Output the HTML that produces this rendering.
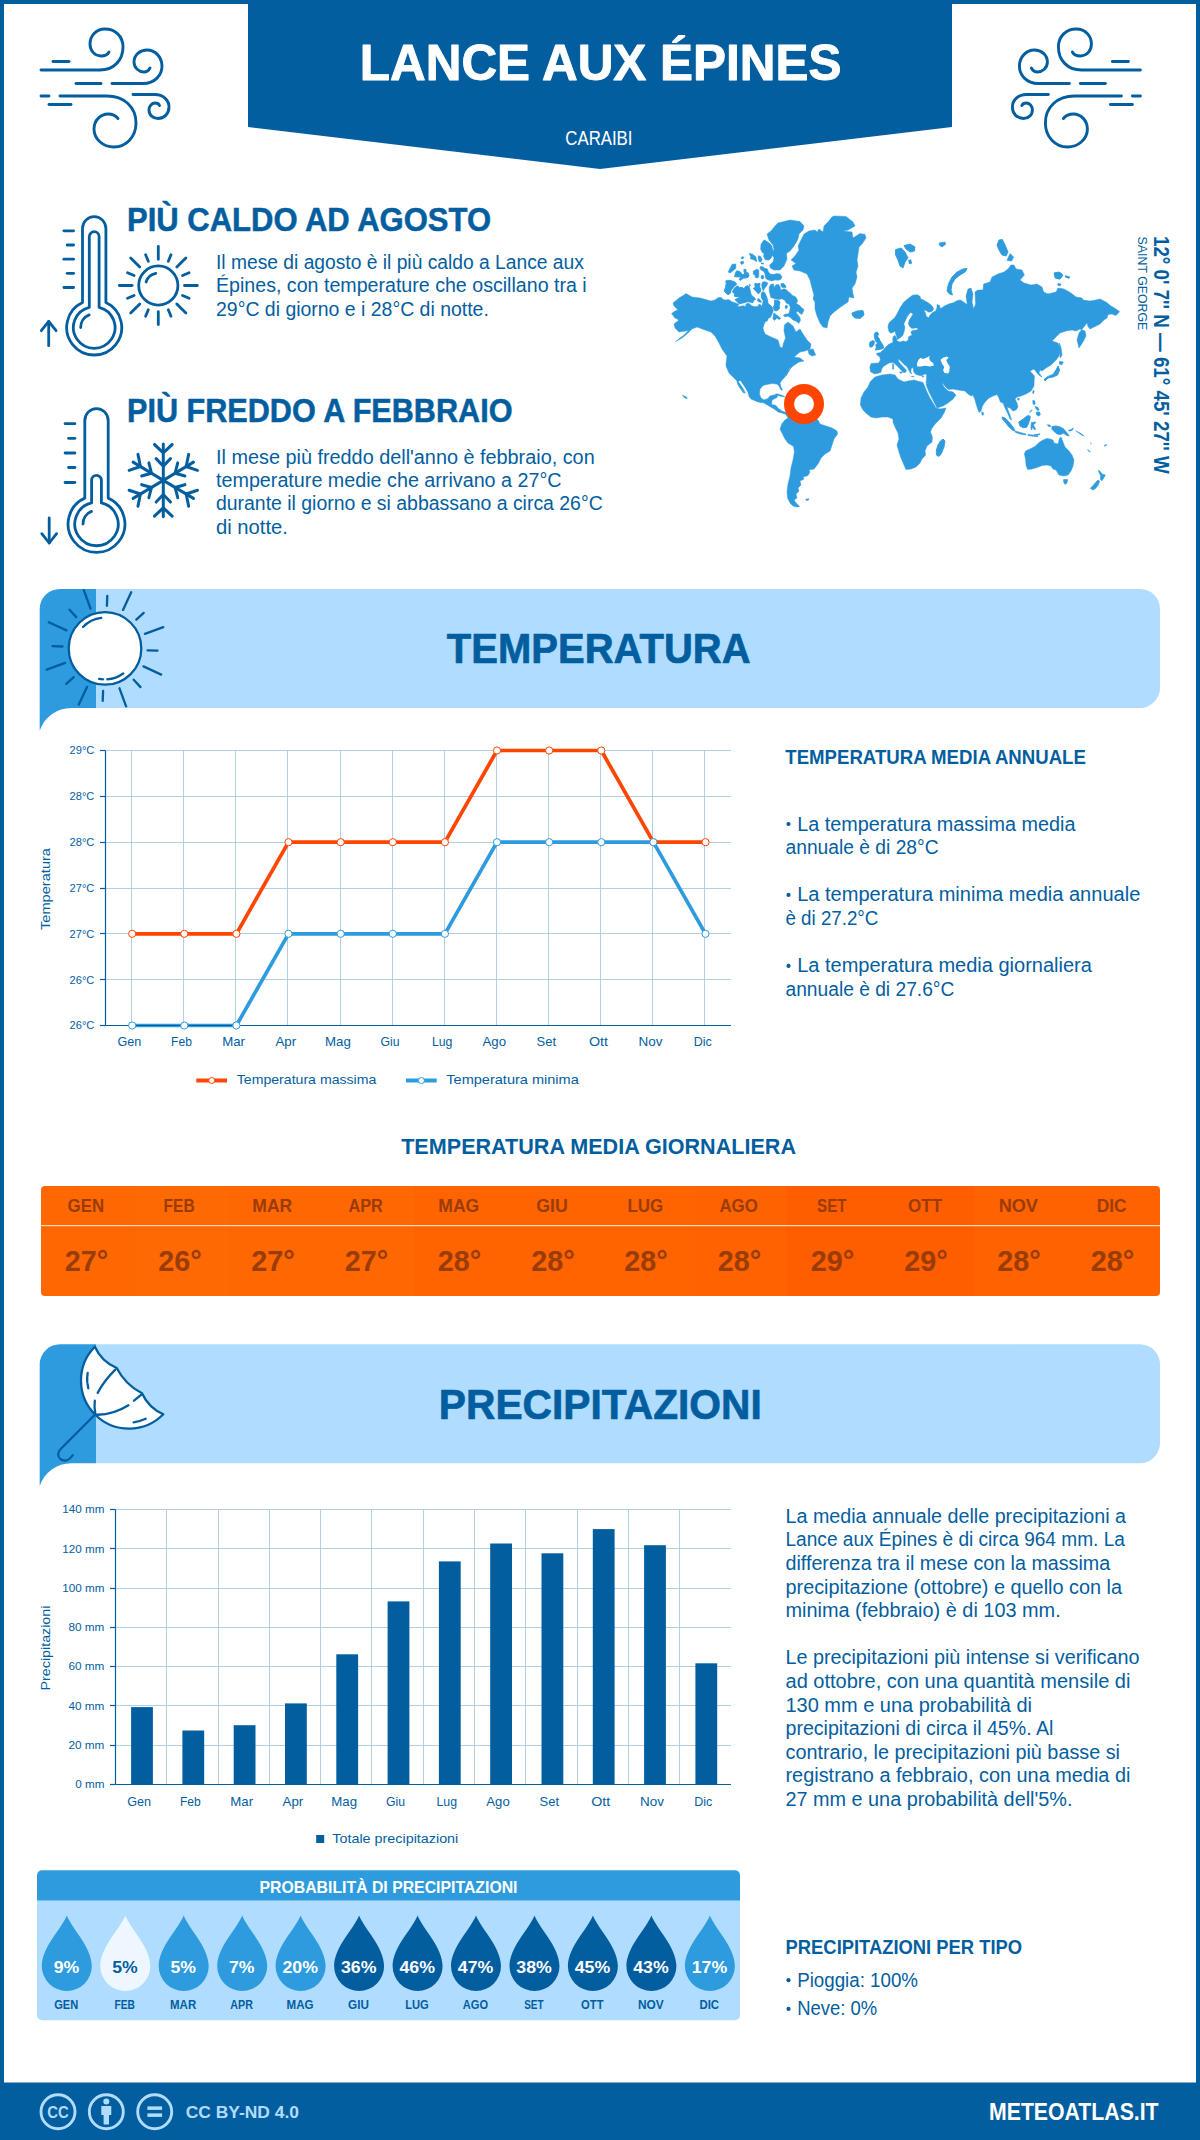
<!DOCTYPE html>
<html lang="it"><head><meta charset="utf-8"><title>Lance aux Épines</title>
<style>
html,body{margin:0;padding:0;background:#fff;}
body{width:1200px;height:2140px;overflow:hidden;font-family:"Liberation Sans", sans-serif;}
svg{display:block;font-family:"Liberation Sans", sans-serif;}
</style></head><body>
<svg width="1200" height="2140" viewBox="0 0 1200 2140">
<rect width="1200" height="2140" fill="#fff"/>
<rect x="0" y="0" width="1200" height="4" fill="#035E9F"/><rect x="0" y="0" width="4" height="2140" fill="#035E9F"/><rect x="1196" y="0" width="4" height="2140" fill="#035E9F"/>
<rect x="0" y="2082.5" width="1200" height="57.5" fill="#035E9F"/>
<polygon points="248,0 952,0 952,127 600,169 248,127" fill="#035E9F"/>
<text x="359.8" y="79.8" font-size="49.4" font-weight="bold" fill="#fff" text-anchor="start" textLength="481.6" lengthAdjust="spacingAndGlyphs" stroke="#fff" stroke-width="0.9" stroke-linejoin="round">LANCE AUX ÉPINES</text>
<text x="565.3" y="145.2" font-size="19.5" font-weight="normal" fill="#fff" text-anchor="start" textLength="67.2" lengthAdjust="spacingAndGlyphs">CARAIBI</text>
<g fill="none" stroke="#035E9F" stroke-width="2.9" stroke-linecap="round" stroke-linejoin="round"><path d="M41,70 L100,70 C114,70 123,60 123,47 C123,36 115,29 105,29 C96,29 90,36 90,44 C90,51 95,56 101,56 C105,56 108,54 109,52"/><path d="M53,61.5 L69,61.5"/><path d="M76,83.5 L101,83.5"/><path d="M112,83.5 L143,83.5 C155,83.5 162,75 162,66 C162,57 155,50 147,50 C140,50 134,55 134,62 C134,68 139,72 144,72 C147,72 149,70 150,68"/><path d="M133,94.5 L155,94.5 C163,94.5 169,100 169,107 C169,114 164,118.5 158,118.5 C153,118.5 149,115 149,110 C149,106 152,103 155,103 C157,103 159,104 159.5,105.5"/><path d="M41,96 L49,96"/><path d="M49,104.5 L71,104.5"/><path d="M60,96 L107,96 C124,96 136,107 136,123 C136,137 126,147 114,147 C103,147 94,139 94,129 C94,120 101,114 108,114 C112,114 116,116 118,118.5"/></g>
<g fill="none" stroke="#035E9F" stroke-width="2.9" stroke-linecap="round" stroke-linejoin="round" transform="translate(1181.4,0) scale(-1,1)"><path d="M41,70 L100,70 C114,70 123,60 123,47 C123,36 115,29 105,29 C96,29 90,36 90,44 C90,51 95,56 101,56 C105,56 108,54 109,52"/><path d="M53,61.5 L69,61.5"/><path d="M76,83.5 L101,83.5"/><path d="M112,83.5 L143,83.5 C155,83.5 162,75 162,66 C162,57 155,50 147,50 C140,50 134,55 134,62 C134,68 139,72 144,72 C147,72 149,70 150,68"/><path d="M133,94.5 L155,94.5 C163,94.5 169,100 169,107 C169,114 164,118.5 158,118.5 C153,118.5 149,115 149,110 C149,106 152,103 155,103 C157,103 159,104 159.5,105.5"/><path d="M41,96 L49,96"/><path d="M49,104.5 L71,104.5"/><path d="M60,96 L107,96 C124,96 136,107 136,123 C136,137 126,147 114,147 C103,147 94,139 94,129 C94,120 101,114 108,114 C112,114 116,116 118,118.5"/></g>
<g fill="none" stroke="#035E9F" stroke-width="2.8" stroke-linecap="round" stroke-linejoin="round"><path d="M82.5,302.6 L82.5,228.39999999999998 A11.7,11.7 0 0 1 105.9,228.39999999999998 L105.9,302.6 A27.5,27.5 0 1 1 82.5,302.6 Z"/><path d="M89.3,307.3 L89.3,236.6 A4.9,4.9 0 0 1 99.10000000000001,236.6 L99.10000000000001,307.3 A20.8,20.8 0 1 1 89.3,307.3 Z"/><path d="M80.7,327.5 A13.5,13.5 0 0 1 89.2,314.9"/><path d="M63.9,230.8 L73.6,230.8"/><path d="M63.9,259.2 L73.6,259.2"/><path d="M63.9,287.5 L73.6,287.5"/><path d="M67.2,245 L73.6,245"/><path d="M67.2,273.3 L73.6,273.3"/><path d="M48.7,321.4 L48.7,345.7"/><path d="M41.300000000000004,330.7 L48.7,321.4 L56.1,330.7"/></g>
<g fill="none" stroke="#035E9F" stroke-width="2.8" stroke-linecap="round" stroke-linejoin="round"><path d="M84.8,498.1 L84.8,420.4 A11.7,11.7 0 0 1 108.2,420.4 L108.2,498.1 A28.4,28.4 0 1 1 84.8,498.1 Z"/><path d="M91.6,502.9 L91.6,480.2 A4.9,4.9 0 0 1 101.4,480.2 L101.4,502.9 A21.7,21.7 0 1 1 91.6,502.9 Z"/><path d="M83.0,524 A13.5,13.5 0 0 1 91.5,511.4"/><path d="M65.1,423.7 L74.9,423.7"/><path d="M65.1,453 L74.9,453"/><path d="M65.1,482.5 L74.9,482.5"/><path d="M68.6,438.3 L74.9,438.3"/><path d="M68.6,467.5 L74.9,467.5"/><path d="M49.2,518 L49.2,543"/><path d="M41.800000000000004,533.7 L49.2,543 L56.6,533.7"/></g>
<g fill="none" stroke="#035E9F" stroke-width="2.8" stroke-linecap="round"><circle cx="158.3" cy="285.5" r="19.6"/><path d="M146.10000000000002,282.0 A12.6,12.6 0 0 1 155.8,273.3"/><path d="M184.5,285.5 L197.3,285.5"/><path d="M182.5,295.5 L189.1,298.2"/><path d="M176.8,304.0 L185.9,313.1"/><path d="M168.3,309.7 L171.0,316.3"/><path d="M158.3,311.7 L158.3,324.5"/><path d="M148.3,309.7 L145.6,316.3"/><path d="M139.8,304.0 L130.7,313.1"/><path d="M134.1,295.5 L127.5,298.2"/><path d="M132.1,285.5 L119.3,285.5"/><path d="M134.1,275.5 L127.5,272.8"/><path d="M139.8,267.0 L130.7,257.9"/><path d="M148.3,261.3 L145.6,254.7"/><path d="M158.3,259.3 L158.3,246.5"/><path d="M168.3,261.3 L171.0,254.7"/><path d="M176.8,267.0 L185.9,257.9"/><path d="M182.5,275.5 L189.1,272.8"/></g>
<g fill="none" stroke="#035E9F" stroke-width="3.1" stroke-linecap="round" stroke-linejoin="round" transform="translate(163.3,0) scale(0.96,1) translate(-163.3,0)"><g transform="rotate(0 163.3 480.3)"><path d="M163.3,480.3 L163.3,444.0"/><path d="M154.10000000000002,444.5 L163.3,452.8 L172.5,444.5"/><path d="M155.8,458.6 L163.3,466.1 L170.8,458.6"/></g><g transform="rotate(60 163.3 480.3)"><path d="M163.3,480.3 L163.3,444.0"/><path d="M154.10000000000002,444.5 L163.3,452.8 L172.5,444.5"/><path d="M155.8,458.6 L163.3,466.1 L170.8,458.6"/></g><g transform="rotate(120 163.3 480.3)"><path d="M163.3,480.3 L163.3,444.0"/><path d="M154.10000000000002,444.5 L163.3,452.8 L172.5,444.5"/><path d="M155.8,458.6 L163.3,466.1 L170.8,458.6"/></g><g transform="rotate(180 163.3 480.3)"><path d="M163.3,480.3 L163.3,444.0"/><path d="M154.10000000000002,444.5 L163.3,452.8 L172.5,444.5"/><path d="M155.8,458.6 L163.3,466.1 L170.8,458.6"/></g><g transform="rotate(240 163.3 480.3)"><path d="M163.3,480.3 L163.3,444.0"/><path d="M154.10000000000002,444.5 L163.3,452.8 L172.5,444.5"/><path d="M155.8,458.6 L163.3,466.1 L170.8,458.6"/></g><g transform="rotate(300 163.3 480.3)"><path d="M163.3,480.3 L163.3,444.0"/><path d="M154.10000000000002,444.5 L163.3,452.8 L172.5,444.5"/><path d="M155.8,458.6 L163.3,466.1 L170.8,458.6"/></g></g>
<text x="127.0" y="231.3" font-size="32.8" font-weight="bold" fill="#035E9F" text-anchor="start" textLength="364.0" lengthAdjust="spacingAndGlyphs" stroke="#035E9F" stroke-width="0.5" stroke-linejoin="round">PIÙ CALDO AD AGOSTO</text>
<text x="127.0" y="421.6" font-size="32.8" font-weight="bold" fill="#035E9F" text-anchor="start" textLength="385.5" lengthAdjust="spacingAndGlyphs" stroke="#035E9F" stroke-width="0.5" stroke-linejoin="round">PIÙ FREDDO A FEBBRAIO</text>
<text x="216.0" y="268.8" font-size="19.5" font-weight="normal" fill="#035E9F" text-anchor="start" textLength="367.8" lengthAdjust="spacingAndGlyphs">Il mese di agosto è il più caldo a Lance aux</text>
<text x="216.0" y="292.2" font-size="19.5" font-weight="normal" fill="#035E9F" text-anchor="start" textLength="370.7" lengthAdjust="spacingAndGlyphs">Épines, con temperature che oscillano tra i</text>
<text x="216.0" y="315.6" font-size="19.5" font-weight="normal" fill="#035E9F" text-anchor="start" textLength="272.8" lengthAdjust="spacingAndGlyphs">29°C di giorno e i 28°C di notte.</text>
<text x="216.0" y="463.7" font-size="19.5" font-weight="normal" fill="#035E9F" text-anchor="start" textLength="378.7" lengthAdjust="spacingAndGlyphs">Il mese più freddo dell'anno è febbraio, con</text>
<text x="216.0" y="487.0" font-size="19.5" font-weight="normal" fill="#035E9F" text-anchor="start" textLength="345.6" lengthAdjust="spacingAndGlyphs">temperature medie che arrivano a 27°C</text>
<text x="216.0" y="510.4" font-size="19.5" font-weight="normal" fill="#035E9F" text-anchor="start" textLength="386.7" lengthAdjust="spacingAndGlyphs">durante il giorno e si abbassano a circa 26°C</text>
<text x="216.0" y="533.7" font-size="19.5" font-weight="normal" fill="#035E9F" text-anchor="start" textLength="72.0" lengthAdjust="spacingAndGlyphs">di notte.</text>
<g fill="#2E9BDE" stroke="#2E9BDE" stroke-linejoin="round"><polygon stroke-width="0.5" points="834.0,216.0 846.0,216.4 853.0,222.0 855.0,226.0 848.0,230.0 843.0,231.0 852.0,232.0 853.0,238.0 860.0,233.6 865.0,234.4 866.0,238.0 862.0,244.0 859.0,247.0 858.0,254.0 857.0,260.0 858.0,266.0 856.0,272.0 857.0,277.0 855.0,284.0 852.0,288.0 853.0,294.0 854.0,298.0 849.0,297.0 848.0,302.0 842.0,306.0 834.0,312.0 830.0,316.0 828.0,322.0 827.0,328.0 823.0,327.0 820.0,323.0 817.0,316.0 815.0,309.0 815.0,302.0 813.0,299.0 814.0,295.0 812.0,288.0 810.0,280.0 807.0,274.0 800.0,271.0 794.0,270.0 792.0,266.0 796.0,263.6 791.0,260.0 795.0,256.0 799.0,250.0 798.0,246.0 804.0,234.0 809.0,231.0 815.0,230.0 817.0,232.0 819.0,229.0 823.0,232.0 824.0,226.0 828.0,222.0 832.0,217.0"/><polygon stroke-width="0.9" points="852.0,313.0 857.0,311.0 863.0,310.6 864.0,315.0 860.0,318.4 855.0,318.0 852.4,315.6"/><polygon stroke-width="0.5" points="778.0,223.0 790.0,220.0 800.0,221.6 804.0,226.0 803.0,230.0 799.0,234.0 798.0,239.0 794.0,246.0 790.0,251.0 786.4,253.6 787.0,259.0 784.0,266.0 780.0,270.0 774.0,270.0 770.4,268.0 769.6,265.0 773.0,262.0 774.0,258.0 772.0,254.0 774.0,249.0 773.0,245.0 769.0,240.0 767.0,234.0 771.0,231.0 775.0,226.0"/><polygon stroke-width="0.9" points="764.2,240.0 768.3,242.5 771.7,245.8 772.5,250.0 774.2,252.9 772.1,255.8 770.4,258.8 768.3,260.0 765.4,259.6 763.8,256.7 764.2,253.3 762.5,252.5 760.8,249.2 761.2,244.2"/><polygon stroke-width="0.6" points="749.2,253.3 752.5,254.2 755.8,256.7 756.7,261.7 753.3,259.6 750.4,258.8 750.8,256.7"/><polygon stroke-width="0.6" points="758.2,255.8 760.4,256.2 762.1,259.2 761.2,261.7 759.2,261.8 758.3,258.8"/><polygon stroke-width="0.2" points="740.8,257.9 742.5,256.2 744.2,257.5 742.9,259.0 741.2,258.8"/><polygon stroke-width="0.2" points="740.0,262.5 741.7,261.0 744.0,261.5 743.8,263.3 741.7,264.8"/><polygon stroke-width="0.2" points="760.8,262.7 763.8,262.9 763.8,264.2 761.2,264.0"/><polygon stroke-width="0.6" points="732.1,264.3 735.8,264.0 735.8,268.3 732.9,270.8 730.0,272.9 728.2,272.1 729.6,269.2"/><polygon stroke-width="0.9" points="736.7,270.8 740.0,271.7 742.5,274.6 744.6,274.2 743.8,269.6 745.8,269.2 746.2,272.5 748.3,272.9 749.0,275.8 747.9,277.5 743.3,278.3 740.0,280.4 739.2,279.2 741.2,277.1 734.6,276.7 735.4,273.3"/><polygon stroke-width="0.6" points="753.3,271.2 756.7,269.2 758.8,270.0 758.8,276.7 757.5,277.9 755.4,277.5 755.0,275.0 753.3,274.2"/><polygon stroke-width="0.2" points="761.2,275.4 763.3,275.0 764.2,277.5 762.9,279.2 760.8,278.2"/><polygon stroke-width="0.9" points="760.4,266.7 763.3,267.1 765.0,268.8 767.1,268.8 768.3,272.1 770.4,274.2 773.3,274.6 777.1,273.8 780.0,274.2 781.7,276.7 780.8,279.2 778.3,280.0 775.0,279.8 771.7,280.7 768.3,279.8 766.0,278.5 765.0,273.3 763.8,271.2 761.2,270.0 760.0,268.3"/><polygon stroke-width="0.9" points="725.8,280.8 730.0,280.4 734.6,281.7 736.7,284.2 733.8,286.7 731.2,290.0 730.4,293.3 727.9,294.8 724.2,291.2 725.4,287.5 726.2,283.8"/><polygon stroke-width="0.9" points="737.1,285.8 739.6,287.5 742.5,287.5 743.8,288.8 745.8,286.2 747.9,285.8 749.6,287.9 750.4,291.7 751.2,295.0 755.0,298.3 755.4,299.6 752.9,300.8 753.3,302.5 750.0,302.1 747.5,301.7 743.3,302.9 739.2,303.8 737.1,301.7 735.0,299.6 737.9,298.3 740.0,297.5 737.5,296.7 734.2,296.2 735.0,294.2 732.5,292.1 733.8,288.8"/><polygon stroke-width="0.9" points="755.0,283.3 757.5,283.8 760.0,283.3 759.6,286.7 760.8,289.2 760.4,292.1 758.3,293.8 756.7,292.1 755.0,290.0 753.2,288.3 755.4,287.5 754.8,285.4"/><polygon stroke-width="0.6" points="762.5,282.1 765.0,281.7 767.9,282.9 766.7,285.8 764.6,288.3 763.3,290.8 762.1,288.3 761.7,285.0"/><polygon stroke-width="0.2" points="748.8,284.2 750.4,284.6 750.4,286.2 749.2,286.7"/><polygon stroke-width="0.2" points="757.9,298.3 759.2,298.8 761.7,301.2 761.2,302.5 758.8,302.1 757.1,300.8"/><polygon stroke-width="0.9" points="761.2,294.2 762.5,291.7 764.6,292.5 765.8,295.0 767.1,298.3 767.9,303.3 771.7,306.7 765.0,308.3 761.7,306.7 762.9,303.3 763.3,300.8 761.7,298.3"/><polygon stroke-width="0.5" points="769.2,286.7 770.8,284.6 773.3,283.8 774.2,287.5 775.8,285.0 778.3,284.2 780.0,286.7 780.8,290.0 784.2,288.8 786.7,290.0 788.8,292.1 790.4,293.3 792.5,295.4 795.4,296.7 797.1,299.2 797.5,301.7 796.2,303.3 800.0,305.8 802.1,308.3 803.8,309.2 803.3,311.7 801.7,314.6 799.6,312.9 797.5,311.2 796.2,312.5 798.3,315.4 800.0,317.5 800.4,320.4 798.8,323.3 796.2,321.2 792.9,320.0 790.4,317.5 788.3,316.2 785.0,316.7 783.3,315.4 785.0,314.2 788.8,313.8 789.6,310.8 790.4,307.5 789.2,304.6 786.2,302.9 784.6,300.0 781.7,298.8 779.2,299.6 775.0,298.8 770.8,297.5 770.0,294.2 769.2,290.8"/><polygon stroke-width="0.6" points="780.8,283.8 783.3,283.3 785.8,285.8 785.8,287.5 783.3,287.7 781.2,286.7"/><polygon stroke-width="0.9" points="774.6,300.0 778.3,300.4 780.0,302.1 779.2,305.8 779.6,308.3 777.1,310.8 774.6,310.7 773.3,307.5 774.6,304.2"/><polygon stroke-width="0.2" points="785.0,305.8 787.1,305.0 787.9,306.7 786.7,308.8 785.0,308.3"/><polygon stroke-width="0.6" points="773.8,312.9 776.7,315.0 780.8,318.3 779.2,319.6 776.7,317.9 774.6,320.4 772.9,318.8"/><polygon stroke-width="0.6" points="808.0,350.0 813.0,349.0 815.6,355.0 812.0,356.0 809.0,354.0"/><polygon stroke-width="0.5" points="686.0,293.6 692.0,297.0 700.0,298.0 711.0,301.0 715.0,300.0 718.3,297.5 721.2,297.5 723.3,299.6 725.8,300.0 728.8,299.6 731.7,301.7 735.8,302.9 738.8,304.2 737.5,306.7 740.8,306.2 743.8,305.8 745.4,306.7 746.2,303.8 748.8,303.3 751.7,305.8 755.0,306.7 758.3,306.2 758.8,304.2 760.4,304.6 761.7,306.7 765.0,308.3 771.7,306.7 772.5,307.5 773.3,310.8 771.7,315.0 770.4,317.5 768.3,318.3 767.5,320.8 765.0,322.1 763.3,326.7 762.9,330.0 763.0,329.0 765.0,334.0 771.0,337.0 778.0,340.0 780.0,347.0 782.4,348.0 783.6,343.0 785.6,338.0 784.0,331.0 784.4,325.0 788.0,322.0 793.0,326.0 796.0,332.0 800.0,329.0 803.0,334.0 807.0,340.0 811.0,344.0 810.0,349.0 805.0,351.0 800.0,352.0 794.0,357.0 800.0,358.0 804.0,361.0 799.0,362.0 793.0,366.0 788.0,371.0 786.0,376.0 792.0,366.0 789.0,369.0 787.0,373.0 785.0,377.0 782.0,380.0 780.0,383.0 781.0,387.0 782.4,390.0 781.0,390.0 779.0,386.0 777.0,384.0 772.0,383.6 767.0,384.4 763.0,385.6 760.0,389.0 759.4,394.0 761.0,398.0 764.0,400.0 768.0,398.4 770.0,396.0 778.0,394.0 777.0,397.6 772.0,400.0 771.6,404.4 776.0,405.6 778.4,408.6 782.0,411.0 786.0,412.4 788.0,415.0 785.0,414.0 781.0,412.8 778.0,412.0 775.0,409.6 769.0,406.0 764.0,403.0 758.0,402.0 751.0,399.0 748.0,395.0 744.0,390.0 739.0,383.0 735.0,379.0 729.0,373.0 726.0,366.0 726.0,364.0 727.0,356.0 722.0,349.0 719.0,343.0 715.0,336.0 711.0,332.0 705.0,330.0 697.0,327.0 692.0,329.0 688.0,333.0 682.0,338.0 675.6,341.6 684.0,335.0 689.0,330.0 686.0,331.0 679.0,332.0 675.0,328.0 674.0,324.0 679.0,320.0 675.0,318.0 671.6,313.6 675.0,311.0 678.0,310.0 674.0,306.0 673.0,303.0 679.0,298.0 684.0,295.0"/><polygon stroke-width="0.6" points="737.0,381.0 740.0,384.0 743.0,389.0 745.0,393.0 743.6,393.0 740.0,388.0 737.6,384.0"/><polygon stroke-width="0.2" points="775.6,393.6 780.0,394.4 784.0,396.0 785.0,397.2 781.0,396.4 777.0,395.2"/><polygon stroke-width="0.2" points="786.0,397.6 790.0,397.2 791.0,399.0 787.0,399.4"/><polygon stroke-width="0.5" points="785.0,413.0 788.0,418.0 785.0,420.0 782.0,423.6 780.0,429.0 782.0,433.0 785.0,439.0 788.0,443.0 793.6,446.4 794.4,452.0 793.0,460.0 791.0,468.0 790.0,476.0 788.0,484.0 787.0,492.0 787.6,498.0 790.0,503.0 793.0,506.0 797.0,507.0 799.6,506.4 796.0,503.0 794.0,500.0 797.0,498.0 796.0,494.0 799.0,491.0 798.0,488.0 801.0,485.0 800.0,481.0 804.0,479.0 803.0,477.0 808.0,475.6 810.0,472.0 809.0,470.0 814.0,469.0 818.0,464.0 821.0,458.0 825.0,454.0 830.0,451.0 832.4,444.0 834.0,439.0 837.6,434.0 837.0,431.0 832.0,428.0 826.0,426.0 820.0,424.0 818.0,420.0 814.0,418.0 808.0,414.0 800.0,412.0 792.0,413.0 788.0,415.0"/><polygon stroke-width="0.2" points="805.6,499.0 809.0,498.6 808.4,500.4 806.0,500.6"/><polygon stroke-width="0.2" points="682.0,395.0 685.0,396.0 687.6,398.0 686.4,399.0 683.6,397.0"/><polygon stroke-width="0.5" points="875.0,377.0 882.0,375.0 890.0,374.0 895.0,375.0 898.0,379.0 904.0,382.0 908.0,381.0 914.0,380.0 919.0,381.6 923.0,382.4 925.0,387.0 927.0,392.0 930.0,398.0 933.0,403.0 936.0,408.0 940.0,409.0 946.0,408.0 944.0,413.0 941.0,418.0 936.0,423.0 932.0,428.0 930.4,432.0 932.4,437.0 932.0,442.0 927.0,446.0 925.0,451.0 925.6,455.0 922.0,459.0 920.0,463.0 916.0,467.0 911.0,469.0 906.0,469.6 904.0,465.0 901.0,458.0 899.0,452.0 897.0,445.0 899.0,439.0 898.0,433.0 895.0,427.0 893.0,422.0 893.0,419.0 888.0,417.0 882.0,417.0 876.0,418.0 871.0,417.0 867.0,414.0 863.0,410.0 860.4,405.0 861.0,398.0 864.0,392.0 868.0,387.0 870.0,382.0"/><polygon stroke-width="0.9" points="943.0,439.0 945.0,441.0 944.0,447.0 941.6,453.0 939.0,456.4 936.4,455.0 936.4,450.0 938.0,445.0 940.4,441.0"/><polygon stroke-width="0.5" points="926.0,384.0 930.0,382.0 936.0,379.0 942.0,383.0 944.0,387.0 948.0,391.0 953.0,392.0 956.0,395.0 953.0,399.0 948.0,403.0 943.0,406.0 937.0,408.0 935.0,404.0 932.0,398.0 929.0,392.0 927.0,387.0"/><polygon stroke-width="0.2" points="981.6,411.6 983.6,412.4 983.6,415.0 982.0,415.6"/><polygon stroke-width="0.9" points="1002.0,417.0 1005.0,418.0 1009.0,422.0 1013.0,427.0 1015.0,431.0 1013.0,430.4 1009.0,427.0 1005.0,422.0 1002.4,419.0"/><polygon stroke-width="0.6" points="1015.0,431.0 1020.0,432.4 1026.0,434.0 1025.6,435.0 1020.0,434.0 1015.6,432.4"/><polygon stroke-width="0.9" points="1018.7,422.0 1022.0,420.0 1026.0,416.7 1028.7,415.3 1030.4,416.7 1029.6,420.0 1028.3,424.0 1026.7,427.3 1023.3,427.7 1020.0,426.0"/><polygon stroke-width="0.9" points="1052.0,426.7 1056.0,426.0 1060.0,426.9 1064.0,429.3 1066.7,432.7 1069.3,436.0 1066.7,435.3 1063.3,433.1 1060.7,434.4 1057.3,434.0 1054.7,432.0 1052.0,429.3"/><polygon stroke-width="0.6" points="1028.0,434.4 1038.0,435.6 1037.6,436.8 1028.0,435.6"/><polygon stroke-width="0.5" points="1025.6,451.0 1030.0,449.0 1035.0,446.4 1039.0,442.4 1043.0,440.0 1047.0,438.4 1050.0,439.0 1053.0,440.0 1054.0,443.0 1058.0,444.0 1059.6,438.0 1061.0,437.0 1063.0,442.0 1065.0,447.0 1069.0,451.0 1072.0,455.0 1074.0,460.0 1073.0,466.0 1071.0,471.0 1068.0,475.0 1064.0,476.0 1059.0,475.0 1056.0,470.0 1053.0,469.0 1051.0,466.0 1047.0,465.0 1042.0,465.6 1037.0,467.6 1032.0,469.0 1027.6,469.6 1026.0,465.0 1025.6,459.0 1024.4,454.0"/><polygon stroke-width="0.6" points="1063.6,479.6 1067.6,479.6 1067.0,483.0 1065.0,484.4 1063.6,482.0"/><polygon stroke-width="0.2" points="1033.0,390.0 1034.4,391.0 1033.6,394.0 1032.4,393.0"/><polygon stroke-width="0.2" points="1017.6,398.0 1019.6,398.4 1019.0,400.4 1017.4,400.0"/><polygon stroke-width="0.5" points="870.5,371.7 869.9,367.0 871.1,363.5 878.7,362.9 880.4,360.0 879.8,357.1 876.9,354.8 876.3,353.6 880.4,352.4 883.3,350.1 885.1,347.8 888.0,344.8 891.5,343.1 893.0,342.3 892.7,339.0 893.5,336.1 895.0,335.5 896.4,337.8 897.1,340.9 898.5,341.6 900.2,342.0 903.2,340.9 906.1,341.7 908.1,340.2 908.6,336.7 912.1,334.9 910.8,332.0 912.5,330.4 918.0,329.7 917.2,327.7 911.9,328.5 909.6,326.4 908.4,323.8 909.0,320.6 911.3,317.1 913.1,313.9 910.8,312.5 909.0,313.9 907.2,316.8 905.5,320.3 903.8,323.8 904.9,327.3 904.3,330.8 902.9,335.3 900.2,337.8 897.3,339.6 896.8,336.7 895.6,333.8 895.0,330.8 893.8,332.0 890.9,333.2 888.9,331.4 888.0,327.3 888.6,323.8 890.3,321.5 895.0,317.4 897.9,312.2 900.2,307.5 903.8,302.2 907.8,298.8 912.5,295.2 917.2,294.7 920.1,296.4 920.7,298.8 925.3,301.1 930.0,304.0 932.9,306.9 933.5,309.2 931.8,311.6 928.8,312.2 925.9,310.4 923.9,310.1 925.3,312.8 926.5,316.8 928.8,317.4 930.0,315.1 932.9,312.2 935.8,311.0 937.0,307.5 937.0,304.6 939.3,305.2 940.5,308.7 944.0,306.3 948.7,304.0 953.3,302.8 957.4,300.5 960.3,299.9 963.8,302.2 967.3,304.6 966.0,296.0 968.0,289.0 971.0,288.0 973.0,294.0 972.0,302.0 973.6,309.0 975.6,304.0 975.0,292.0 978.0,290.0 983.0,290.0 983.6,284.0 990.0,282.0 992.0,277.0 998.0,274.0 1004.0,272.0 1008.0,269.0 1011.0,265.0 1014.0,265.0 1016.0,269.0 1022.0,270.0 1024.4,275.0 1020.0,280.0 1024.0,283.0 1031.0,285.0 1037.0,284.0 1042.0,287.0 1043.6,292.0 1048.0,294.0 1056.0,292.0 1058.0,288.0 1064.0,289.0 1071.0,293.0 1076.0,297.0 1082.0,298.0 1083.0,300.0 1090.0,301.0 1096.0,300.0 1100.0,299.0 1106.0,302.0 1111.0,306.0 1116.0,309.0 1119.6,311.6 1116.0,315.6 1112.0,314.0 1108.0,314.4 1107.0,318.0 1104.0,320.0 1100.0,324.0 1094.0,327.0 1090.0,329.0 1088.0,326.4 1087.0,323.0 1083.0,328.0 1079.0,333.0 1077.0,340.0 1079.0,348.0 1083.0,342.0 1086.0,336.0 1085.0,331.0 1080.0,329.0 1076.0,331.0 1072.0,330.0 1066.0,331.0 1060.0,333.0 1056.0,337.0 1052.0,341.0 1058.0,343.0 1060.0,348.0 1059.0,356.0 1056.0,360.0 1051.0,365.0 1046.0,368.0 1042.0,371.0 1040.0,370.0 1039.0,373.0 1042.0,377.0 1040.0,376.0 1037.0,373.0 1034.0,369.0 1030.0,371.0 1034.4,376.0 1034.0,384.0 1034.0,386.0 1031.0,391.0 1026.0,394.0 1021.0,396.0 1017.0,397.0 1015.0,399.0 1017.0,403.0 1018.0,407.0 1016.0,410.0 1013.0,411.0 1010.0,408.0 1007.0,407.0 1008.0,410.0 1010.0,415.0 1011.6,420.0 1010.0,419.0 1008.0,414.0 1005.0,408.0 1003.0,403.0 1000.4,402.0 999.0,398.0 997.0,394.4 993.0,396.0 989.0,398.0 985.0,402.0 982.4,406.0 981.0,411.0 979.0,412.4 977.0,407.0 975.0,400.0 973.0,395.0 971.0,396.0 968.0,394.0 965.0,391.0 958.0,390.0 953.0,389.0 948.4,389.6 945.6,387.0 943.0,383.6 930.0,382.0 926.0,383.6 926.5,378.7 926.7,374.6 924.8,374.0 921.8,375.8 918.3,375.2 915.4,374.0 913.7,371.7 913.1,367.6 911.3,368.2 910.8,371.7 911.9,374.0 910.2,372.8 909.0,370.5 907.8,368.2 906.1,365.8 904.3,364.7 902.0,362.3 899.4,359.8 897.8,359.1 899.0,362.1 901.3,364.7 904.3,367.9 906.7,370.5 905.3,372.4 903.4,372.6 901.1,370.3 898.5,367.2 895.9,364.7 894.1,363.0 892.9,362.6 889.2,362.9 886.2,364.7 883.3,366.4 881.6,369.3 881.0,372.2 877.5,373.4 874.0,373.8"/><polygon stroke-width="0.9" points="875.2,332.6 877.5,332.2 878.7,334.3 877.5,336.1 878.7,337.8 880.4,341.3 882.8,344.8 883.9,347.8 881.6,348.9 877.5,349.7 875.2,350.1 876.3,347.8 875.8,344.8 877.5,343.1 875.8,341.3 874.6,337.8 874.2,334.9"/><polygon stroke-width="0.6" points="869.9,341.9 872.8,340.4 874.6,341.3 874.0,344.8 872.2,346.9 869.9,347.2 869.3,344.2"/><polygon stroke-width="0.2" points="892.4,363.5 893.8,363.7 893.8,369.3 892.4,369.3"/><polygon stroke-width="0.2" points="899.7,371.7 902.6,371.9 901.4,373.4 899.7,373.1"/><polygon stroke-width="0.2" points="911.3,376.1 914.2,376.3 914.1,377.0 911.3,376.8"/><polygon stroke-width="0.2" points="921.8,376.6 923.9,376.1 923.7,377.0 922.1,377.3"/><polygon stroke-width="0.9" points="895.6,249.6 901.0,248.0 905.0,252.0 908.0,258.0 905.0,262.0 903.0,268.0 900.0,266.0 898.0,260.0 895.6,255.0"/><polygon stroke-width="0.9" points="904.0,245.6 910.0,244.0 915.0,247.0 914.4,251.0 910.0,252.0 906.0,249.0"/><polygon stroke-width="0.2" points="908.4,260.0 911.0,259.6 912.0,263.6 909.0,264.0"/><polygon stroke-width="0.6" points="939.0,243.0 945.0,242.0 945.6,244.4 942.0,247.0 939.6,245.6"/><polygon stroke-width="0.9" points="967.0,268.4 965.0,272.0 960.0,275.0 955.0,279.0 952.0,284.0 951.0,290.0 952.4,295.0 949.6,294.0 947.0,291.0 948.4,284.0 952.0,277.0 957.0,272.0 963.0,269.0"/><polygon stroke-width="0.9" points="999.0,240.0 1002.4,239.6 1005.0,245.0 1008.0,252.0 1006.0,256.0 1002.0,255.0 999.0,250.0 997.0,245.0"/><polygon stroke-width="0.6" points="1010.0,253.6 1013.6,257.0 1011.6,261.0 1007.0,260.4"/><polygon stroke-width="0.6" points="1054.4,273.0 1060.0,272.4 1062.4,275.6 1060.0,279.0 1055.0,278.0"/><polygon stroke-width="0.2" points="1065.6,275.6 1070.0,277.0 1069.0,278.4 1065.6,277.0"/><polygon stroke-width="0.2" points="1058.0,283.6 1061.0,284.0 1060.4,285.6 1058.0,285.2"/><polygon stroke-width="0.6" points="1059.4,343.0 1061.0,348.0 1062.0,355.0 1060.4,358.0 1059.4,352.0"/><polygon stroke-width="0.2" points="1059.6,361.0 1063.6,362.0 1062.0,365.0 1059.0,364.0"/><polygon stroke-width="0.9" points="1058.0,366.0 1059.6,370.0 1057.6,375.0 1053.0,377.0 1048.0,378.0 1045.0,381.0 1044.4,379.0 1048.0,376.4 1053.0,374.4 1056.0,370.0"/><polygon stroke-width="0.9" points="1054.0,273.0 1059.0,272.0 1063.0,275.0 1060.0,279.0 1055.6,278.0"/><polygon stroke-width="0.2" points="1065.0,275.6 1070.0,277.0 1069.0,278.4 1065.0,277.0"/><polygon stroke-width="0.2" points="1057.6,283.6 1061.0,284.0 1060.0,286.0 1057.6,285.2"/><polygon stroke-width="0.6" points="1098.4,470.0 1100.0,471.3 1102.0,474.0 1105.3,474.9 1103.7,478.0 1102.0,480.7 1100.3,479.3 1100.7,476.0 1099.3,473.3"/><polygon stroke-width="0.6" points="1098.0,480.0 1099.7,481.3 1098.0,485.3 1095.3,488.7 1092.7,490.0 1090.4,488.3 1093.3,485.3 1096.0,482.0"/><polygon stroke-width="0.2" points="1087.3,449.3 1089.1,450.4 1090.7,452.0 1089.6,452.0 1088.0,450.7"/><polygon stroke-width="0.2" points="1075.3,430.4 1078.7,432.0 1081.3,433.6 1084.3,436.0 1083.3,436.3 1080.0,434.0 1076.0,431.3"/><polygon stroke-width="0.2" points="1104.0,445.3 1106.7,444.3 1106.9,445.1 1104.7,446.4"/><polygon stroke-width="0.2" points="1090.4,442.0 1091.5,444.0 1090.9,444.3"/><polygon stroke-width="0.2" points="1068.0,430.4 1071.3,429.3 1073.1,427.7 1073.6,428.7 1072.0,430.7 1068.7,431.3"/><polygon stroke-width="0.2" points="1046.7,424.7 1050.0,424.7 1051.3,426.7 1048.7,426.7"/><polygon stroke-width="0.2" points="1032.7,400.0 1034.9,400.7 1035.3,404.0 1034.0,405.3 1032.7,403.3"/><polygon stroke-width="0.2" points="1034.7,406.0 1038.0,407.3 1039.3,410.0 1038.0,410.9 1035.7,408.7"/><polygon stroke-width="0.6" points="1036.3,412.0 1039.7,412.0 1040.3,414.9 1038.4,416.0 1036.3,414.4"/><polygon stroke-width="0.2" points="1029.3,412.0 1032.0,409.6 1032.4,410.1 1030.0,412.7"/><polygon stroke-width="0.2" points="1034.0,434.4 1040.0,433.6 1040.0,434.7 1034.4,435.3"/><polygon stroke-width="0.6" points="1031.3,422.4 1036.0,422.0 1034.9,423.7 1033.3,424.7 1035.7,429.3 1034.0,429.6 1032.7,426.7 1031.7,430.0 1030.9,428.0"/></g><g fill="#fff"><polygon points="917.2,366.4 916.9,363.5 918.3,360.0 920.7,357.7 923.0,359.1 925.9,357.9 929.8,355.9 929.1,358.6 930.2,360.8 933.1,363.1 933.9,365.5 930.0,366.6 925.3,365.8 920.7,366.5"/><polygon points="940.5,360.0 942.8,357.7 946.9,356.5 948.7,357.7 946.3,360.0 947.5,362.9 949.8,366.4 949.2,371.7 948.1,373.4 944.6,373.1 943.1,370.5 944.2,367.0 942.2,364.1"/><polygon points="738.4,381.6 740.4,380.8 744.0,386.0 747.6,392.0 749.0,396.0 747.2,394.4 744.0,389.6 741.0,385.0"/></g>
<circle cx="804" cy="404" r="15" fill="#fff" stroke="#FF4500" stroke-width="10"/>
<g transform="translate(1154.4,236) rotate(90)">
<text x="0.0" y="0.0" font-size="21.8" font-weight="bold" fill="#035E9F" text-anchor="start" textLength="237.7" lengthAdjust="spacingAndGlyphs">12° 0' 7'' N — 61° 45' 27'' W</text>
</g>
<g transform="translate(1137.8,236.6) rotate(90)">
<text x="0.0" y="0.0" font-size="13.7" font-weight="normal" fill="#035E9F" text-anchor="start" textLength="93.7" lengthAdjust="spacingAndGlyphs">SAINT GEORGE</text>
</g>
<path d="M95.5,589 L1140,589 A20,20 0 0 1 1160,609 L1160,687.9 A20,20 0 0 1 1140,707.9 L95.5,707.9 Z" fill="#B0DCFF"/>
<path d="M39.7,609 A20.3,20 0 0 1 60,589 L96,589 L96,707.9 L71.3,707.9 A33.3,33.3 0 0 0 39.7,730.8 Z" fill="#2E9BDE"/>
<text x="446.8" y="662.5" font-size="42.8" font-weight="bold" fill="#035E9F" text-anchor="start" textLength="303.8" lengthAdjust="spacingAndGlyphs" stroke="#035E9F" stroke-width="0.7" stroke-linejoin="round">TEMPERATURA</text>
<path d="M95.5,1344.3 L1140,1344.3 A20,20 0 0 1 1160,1364.3 L1160,1443.2 A20,20 0 0 1 1140,1463.2 L95.5,1463.2 Z" fill="#B0DCFF"/>
<path d="M39.7,1364.3 A20.3,20 0 0 1 60,1344.3 L96,1344.3 L96,1463.2 L71.3,1463.2 A33.3,33.3 0 0 0 39.7,1486.1 Z" fill="#2E9BDE"/>
<text x="438.8" y="1419.0" font-size="42.8" font-weight="bold" fill="#035E9F" text-anchor="start" textLength="323.0" lengthAdjust="spacingAndGlyphs" stroke="#035E9F" stroke-width="0.7" stroke-linejoin="round">PRECIPITAZIONI</text>
<clipPath id="c1"><rect x="40" y="589" width="1120" height="118.5"/></clipPath>
<g clip-path="url(#c1)">
<g fill="none" stroke="#035E9F" stroke-width="2.3" stroke-linecap="round"><circle cx="105" cy="648.4" r="36.3" fill="#fff"/><path d="M83.0,627.0 A30.7,30.7 0 0 1 101.3,617.9"/><path d="M123.2,673.5 A31,31 0 0 1 107.3,679.3"/><path d="M103.0,679.3 A31,31 0 0 1 99.1,678.8"/><path d="M106.9,605.9 L107.3,595.9"/><path d="M123.0,609.9 L131.2,592.2"/><path d="M136.3,619.7 L143.7,612.9"/><path d="M144.9,633.9 L163.3,627.2"/><path d="M147.5,650.3 L157.5,650.7"/><path d="M143.5,666.4 L161.2,674.6"/><path d="M133.7,679.7 L140.5,687.1"/><path d="M119.5,688.3 L126.2,706.7"/><path d="M103.1,690.9 L102.7,700.9"/><path d="M87.0,686.9 L78.8,704.6"/><path d="M73.7,677.1 L66.3,683.9"/><path d="M65.1,662.9 L46.7,669.6"/><path d="M62.5,646.5 L52.5,646.1"/><path d="M66.5,630.4 L48.8,622.2"/><path d="M76.3,617.1 L69.5,609.7"/><path d="M90.5,608.5 L83.8,590.1"/></g>
</g>
<g fill="none" stroke="#035E9F" stroke-width="2.3" stroke-linecap="round" stroke-linejoin="round"><path fill="#fff" d="M94.9,1346.7 A48,48 0 1 0 163.3,1414.3 Q148.7,1408.0 142.0,1393.3 Q125.3,1384.7 116.7,1368.0 Q101.3,1361.3 94.9,1346.7 Z"/><path d="M115.3,1369.6 Q104.0,1380.7 97.7,1392.9"/><path d="M94.8,1400.7 Q94.0,1407.3 95.3,1413.7"/><path d="M95.6,1414.7 Q112.7,1415.3 128.4,1405.3"/><path d="M134.0,1400.7 L141.1,1394.9"/><path d="M87.7,1372.9 Q86.9,1377.3 87.2,1382.0"/><path d="M87.5,1383.6 L88.3,1388.3"/><path d="M133.6,1422.4 Q140.0,1421.3 145.7,1418.7"/><path d="M95.3,1414.3 L60.9,1448.7 C57.3,1452.3 57.3,1456.7 60.7,1459.3 C64.7,1462.0 69.3,1460.0 72.7,1455.3"/></g>
<g stroke="#B3CFE5" stroke-width="1" fill="none"><path d="M105.5,750.5 L731,750.5"/><path d="M105.5,796.5 L731,796.5"/><path d="M105.5,842.5 L731,842.5"/><path d="M105.5,888.5 L731,888.5"/><path d="M105.5,933.5 L731,933.5"/><path d="M105.5,979.5 L731,979.5"/><path d="M131.5,750.5 L131.5,1025.5"/><path d="M183.5,750.5 L183.5,1025.5"/><path d="M235.5,750.5 L235.5,1025.5"/><path d="M287.5,750.5 L287.5,1025.5"/><path d="M340.5,750.5 L340.5,1025.5"/><path d="M392.5,750.5 L392.5,1025.5"/><path d="M444.5,750.5 L444.5,1025.5"/><path d="M496.5,750.5 L496.5,1025.5"/><path d="M548.5,750.5 L548.5,1025.5"/><path d="M600.5,750.5 L600.5,1025.5"/><path d="M652.5,750.5 L652.5,1025.5"/><path d="M704.5,750.5 L704.5,1025.5"/></g>
<text x="69.6" y="754.3" font-size="11.4" font-weight="normal" fill="#035E9F" text-anchor="start" textLength="24.7" lengthAdjust="spacingAndGlyphs">29°C</text>
<text x="69.6" y="800.1" font-size="11.4" font-weight="normal" fill="#035E9F" text-anchor="start" textLength="24.7" lengthAdjust="spacingAndGlyphs">28°C</text>
<text x="69.6" y="846.0" font-size="11.4" font-weight="normal" fill="#035E9F" text-anchor="start" textLength="24.7" lengthAdjust="spacingAndGlyphs">28°C</text>
<text x="69.6" y="891.8" font-size="11.4" font-weight="normal" fill="#035E9F" text-anchor="start" textLength="24.7" lengthAdjust="spacingAndGlyphs">27°C</text>
<text x="69.6" y="937.6" font-size="11.4" font-weight="normal" fill="#035E9F" text-anchor="start" textLength="24.7" lengthAdjust="spacingAndGlyphs">27°C</text>
<text x="69.6" y="983.5" font-size="11.4" font-weight="normal" fill="#035E9F" text-anchor="start" textLength="24.7" lengthAdjust="spacingAndGlyphs">26°C</text>
<text x="69.6" y="1029.3" font-size="11.4" font-weight="normal" fill="#035E9F" text-anchor="start" textLength="24.7" lengthAdjust="spacingAndGlyphs">26°C</text>
<text x="117.5" y="1046.2" font-size="13.5" font-weight="normal" fill="#035E9F" text-anchor="start" textLength="23.8" lengthAdjust="spacingAndGlyphs">Gen</text>
<text x="171.1" y="1046.2" font-size="13.5" font-weight="normal" fill="#035E9F" text-anchor="start" textLength="20.8" lengthAdjust="spacingAndGlyphs">Feb</text>
<text x="222.2" y="1046.2" font-size="13.5" font-weight="normal" fill="#035E9F" text-anchor="start" textLength="22.8" lengthAdjust="spacingAndGlyphs">Mar</text>
<text x="275.4" y="1046.2" font-size="13.5" font-weight="normal" fill="#035E9F" text-anchor="start" textLength="20.8" lengthAdjust="spacingAndGlyphs">Apr</text>
<text x="325.0" y="1046.2" font-size="13.5" font-weight="normal" fill="#035E9F" text-anchor="start" textLength="25.8" lengthAdjust="spacingAndGlyphs">Mag</text>
<text x="380.5" y="1046.2" font-size="13.5" font-weight="normal" fill="#035E9F" text-anchor="start" textLength="19.0" lengthAdjust="spacingAndGlyphs">Giu</text>
<text x="431.9" y="1046.2" font-size="13.5" font-weight="normal" fill="#035E9F" text-anchor="start" textLength="20.5" lengthAdjust="spacingAndGlyphs">Lug</text>
<text x="482.5" y="1046.2" font-size="13.5" font-weight="normal" fill="#035E9F" text-anchor="start" textLength="23.5" lengthAdjust="spacingAndGlyphs">Ago</text>
<text x="536.6" y="1046.2" font-size="13.5" font-weight="normal" fill="#035E9F" text-anchor="start" textLength="19.5" lengthAdjust="spacingAndGlyphs">Set</text>
<text x="589.0" y="1046.2" font-size="13.5" font-weight="normal" fill="#035E9F" text-anchor="start" textLength="19.0" lengthAdjust="spacingAndGlyphs">Ott</text>
<text x="638.6" y="1046.2" font-size="13.5" font-weight="normal" fill="#035E9F" text-anchor="start" textLength="24.0" lengthAdjust="spacingAndGlyphs">Nov</text>
<text x="693.7" y="1046.2" font-size="13.5" font-weight="normal" fill="#035E9F" text-anchor="start" textLength="18.0" lengthAdjust="spacingAndGlyphs">Dic</text>
<g transform="translate(50,889) rotate(-90)">
<text x="-41.0" y="0.0" font-size="13" font-weight="normal" fill="#035E9F" text-anchor="start" textLength="82.0" lengthAdjust="spacingAndGlyphs">Temperatura</text>
</g>
<polyline points="132.2,933.8 184.3,933.8 236.4,933.8 288.5,842.2 340.7,842.2 392.8,842.2 444.9,842.2 497.0,750.5 549.2,750.5 601.3,750.5 653.4,842.2 705.5,842.2" fill="none" stroke="#FF4500" stroke-width="3.7" stroke-linejoin="round" stroke-linecap="round"/>
<polyline points="132.2,1025.5 184.3,1025.5 236.4,1025.5 288.5,933.8 340.7,933.8 392.8,933.8 444.9,933.8 497.0,842.2 549.2,842.2 601.3,842.2 653.4,842.2 705.5,933.8" fill="none" stroke="#2E9BDE" stroke-width="3.7" stroke-linejoin="round" stroke-linecap="round"/>
<g stroke="#035E9F" stroke-width="1.2" fill="none"><path d="M105.5,750.5 L105.5,1025.5"/><path d="M105.5,1025.5 L731,1025.5"/><path d="M100.0,750.5 L105.5,750.5"/><path d="M100.0,796.5 L105.5,796.5"/><path d="M100.0,842.5 L105.5,842.5"/><path d="M100.0,888.5 L105.5,888.5"/><path d="M100.0,933.5 L105.5,933.5"/><path d="M100.0,979.5 L105.5,979.5"/><path d="M100.0,1025.5 L105.5,1025.5"/></g>
<circle cx="132.2" cy="933.8" r="3.6" fill="#fff" stroke="#FF4500" stroke-width="1"/><circle cx="184.3" cy="933.8" r="3.6" fill="#fff" stroke="#FF4500" stroke-width="1"/><circle cx="236.4" cy="933.8" r="3.6" fill="#fff" stroke="#FF4500" stroke-width="1"/><circle cx="288.5" cy="842.2" r="3.6" fill="#fff" stroke="#FF4500" stroke-width="1"/><circle cx="340.7" cy="842.2" r="3.6" fill="#fff" stroke="#FF4500" stroke-width="1"/><circle cx="392.8" cy="842.2" r="3.6" fill="#fff" stroke="#FF4500" stroke-width="1"/><circle cx="444.9" cy="842.2" r="3.6" fill="#fff" stroke="#FF4500" stroke-width="1"/><circle cx="497.0" cy="750.5" r="3.6" fill="#fff" stroke="#FF4500" stroke-width="1"/><circle cx="549.2" cy="750.5" r="3.6" fill="#fff" stroke="#FF4500" stroke-width="1"/><circle cx="601.3" cy="750.5" r="3.6" fill="#fff" stroke="#FF4500" stroke-width="1"/><circle cx="653.4" cy="842.2" r="3.6" fill="#fff" stroke="#FF4500" stroke-width="1"/><circle cx="705.5" cy="842.2" r="3.6" fill="#fff" stroke="#FF4500" stroke-width="1"/>
<circle cx="132.2" cy="1025.5" r="3.6" fill="#fff" stroke="#2E9BDE" stroke-width="1"/><circle cx="184.3" cy="1025.5" r="3.6" fill="#fff" stroke="#2E9BDE" stroke-width="1"/><circle cx="236.4" cy="1025.5" r="3.6" fill="#fff" stroke="#2E9BDE" stroke-width="1"/><circle cx="288.5" cy="933.8" r="3.6" fill="#fff" stroke="#2E9BDE" stroke-width="1"/><circle cx="340.7" cy="933.8" r="3.6" fill="#fff" stroke="#2E9BDE" stroke-width="1"/><circle cx="392.8" cy="933.8" r="3.6" fill="#fff" stroke="#2E9BDE" stroke-width="1"/><circle cx="444.9" cy="933.8" r="3.6" fill="#fff" stroke="#2E9BDE" stroke-width="1"/><circle cx="497.0" cy="842.2" r="3.6" fill="#fff" stroke="#2E9BDE" stroke-width="1"/><circle cx="549.2" cy="842.2" r="3.6" fill="#fff" stroke="#2E9BDE" stroke-width="1"/><circle cx="601.3" cy="842.2" r="3.6" fill="#fff" stroke="#2E9BDE" stroke-width="1"/><circle cx="653.4" cy="842.2" r="3.6" fill="#fff" stroke="#2E9BDE" stroke-width="1"/><circle cx="705.5" cy="933.8" r="3.6" fill="#fff" stroke="#2E9BDE" stroke-width="1"/>
<path d="M196.3,1080.5 L227.0,1080.5" stroke="#FF4500" stroke-width="4" fill="none"/><circle cx="211.70000000000002" cy="1080.5" r="3" fill="#fff" stroke="#FF4500" stroke-width="1"/>
<text x="236.8" y="1083.8" font-size="13.5" font-weight="normal" fill="#035E9F" text-anchor="start" textLength="139.5" lengthAdjust="spacingAndGlyphs">Temperatura massima</text>
<path d="M406,1080.5 L436.7,1080.5" stroke="#2E9BDE" stroke-width="4" fill="none"/><circle cx="421.4" cy="1080.5" r="3" fill="#fff" stroke="#2E9BDE" stroke-width="1"/>
<text x="446.3" y="1083.8" font-size="13.5" font-weight="normal" fill="#035E9F" text-anchor="start" textLength="132.5" lengthAdjust="spacingAndGlyphs">Temperatura minima</text>
<text x="785.3" y="764.2" font-size="20.5" font-weight="bold" fill="#035E9F" text-anchor="start" textLength="300.6" lengthAdjust="spacingAndGlyphs">TEMPERATURA MEDIA ANNUALE</text>
<circle cx="788.5" cy="824.0" r="2.1" fill="#035E9F"/>
<text x="797.2" y="830.5" font-size="19.5" font-weight="normal" fill="#035E9F" text-anchor="start" textLength="278.2" lengthAdjust="spacingAndGlyphs">La temperatura massima media</text>
<text x="785.5" y="854.3" font-size="19.5" font-weight="normal" fill="#035E9F" text-anchor="start" textLength="153.1" lengthAdjust="spacingAndGlyphs">annuale è di 28°C</text>
<circle cx="788.5" cy="894.9" r="2.1" fill="#035E9F"/>
<text x="797.2" y="901.4" font-size="19.5" font-weight="normal" fill="#035E9F" text-anchor="start" textLength="343.1" lengthAdjust="spacingAndGlyphs">La temperatura minima media annuale</text>
<text x="785.5" y="925.2" font-size="19.5" font-weight="normal" fill="#035E9F" text-anchor="start" textLength="92.9" lengthAdjust="spacingAndGlyphs">è di 27.2°C</text>
<circle cx="788.5" cy="965.9" r="2.1" fill="#035E9F"/>
<text x="797.2" y="972.4" font-size="19.5" font-weight="normal" fill="#035E9F" text-anchor="start" textLength="294.7" lengthAdjust="spacingAndGlyphs">La temperatura media giornaliera</text>
<text x="785.5" y="996.2" font-size="19.5" font-weight="normal" fill="#035E9F" text-anchor="start" textLength="168.9" lengthAdjust="spacingAndGlyphs">annuale è di 27.6°C</text>
<text x="401.2" y="1154.4" font-size="22.4" font-weight="bold" fill="#035E9F" text-anchor="start" textLength="394.8" lengthAdjust="spacingAndGlyphs">TEMPERATURA MEDIA GIORNALIERA</text>
<clipPath id="c2"><rect x="41" y="1186" width="1119" height="110" rx="4" ry="4"/></clipPath><g clip-path="url(#c2)">
<rect x="41" y="1186" width="93" height="110" fill="#FF6702" shape-rendering="crispEdges"/>
<rect x="134" y="1186" width="94" height="110" fill="#FF6904" shape-rendering="crispEdges"/>
<rect x="228" y="1186" width="93" height="110" fill="#FF6702" shape-rendering="crispEdges"/>
<rect x="321" y="1186" width="93" height="110" fill="#FF6702" shape-rendering="crispEdges"/>
<rect x="414" y="1186" width="93" height="110" fill="#FF6401" shape-rendering="crispEdges"/>
<rect x="507" y="1186" width="93" height="110" fill="#FF6401" shape-rendering="crispEdges"/>
<rect x="600" y="1186" width="94" height="110" fill="#FF6401" shape-rendering="crispEdges"/>
<rect x="694" y="1186" width="93" height="110" fill="#FF6200" shape-rendering="crispEdges"/>
<rect x="787" y="1186" width="93" height="110" fill="#FF5E00" shape-rendering="crispEdges"/>
<rect x="880" y="1186" width="94" height="110" fill="#FF5E00" shape-rendering="crispEdges"/>
<rect x="974" y="1186" width="93" height="110" fill="#FF6200" shape-rendering="crispEdges"/>
<rect x="1067" y="1186" width="93" height="110" fill="#FF6200" shape-rendering="crispEdges"/>
<rect x="41" y="1225" width="1119" height="1.2" fill="#FFD9BF"/></g>
<text x="85.8" y="1211.8" font-size="18.3" font-weight="bold" fill="#9A3C05" text-anchor="middle" textLength="36.5" lengthAdjust="spacingAndGlyphs">GEN</text>
<text x="86.6" y="1271.0" font-size="29" font-weight="bold" fill="#9A3C05" text-anchor="middle" textLength="43.5" lengthAdjust="spacingAndGlyphs">27°</text>
<text x="179.1" y="1211.8" font-size="18.3" font-weight="bold" fill="#9A3C05" text-anchor="middle" textLength="31.0" lengthAdjust="spacingAndGlyphs">FEB</text>
<text x="179.9" y="1271.0" font-size="29" font-weight="bold" fill="#9A3C05" text-anchor="middle" textLength="43.5" lengthAdjust="spacingAndGlyphs">26°</text>
<text x="272.3" y="1211.8" font-size="18.3" font-weight="bold" fill="#9A3C05" text-anchor="middle" textLength="39.9" lengthAdjust="spacingAndGlyphs">MAR</text>
<text x="273.1" y="1271.0" font-size="29" font-weight="bold" fill="#9A3C05" text-anchor="middle" textLength="43.5" lengthAdjust="spacingAndGlyphs">27°</text>
<text x="365.6" y="1211.8" font-size="18.3" font-weight="bold" fill="#9A3C05" text-anchor="middle" textLength="34.4" lengthAdjust="spacingAndGlyphs">APR</text>
<text x="366.4" y="1271.0" font-size="29" font-weight="bold" fill="#9A3C05" text-anchor="middle" textLength="43.5" lengthAdjust="spacingAndGlyphs">27°</text>
<text x="458.8" y="1211.8" font-size="18.3" font-weight="bold" fill="#9A3C05" text-anchor="middle" textLength="41.0" lengthAdjust="spacingAndGlyphs">MAG</text>
<text x="459.6" y="1271.0" font-size="29" font-weight="bold" fill="#9A3C05" text-anchor="middle" textLength="43.5" lengthAdjust="spacingAndGlyphs">28°</text>
<text x="552.1" y="1211.8" font-size="18.3" font-weight="bold" fill="#9A3C05" text-anchor="middle" textLength="31.6" lengthAdjust="spacingAndGlyphs">GIU</text>
<text x="552.9" y="1271.0" font-size="29" font-weight="bold" fill="#9A3C05" text-anchor="middle" textLength="43.5" lengthAdjust="spacingAndGlyphs">28°</text>
<text x="645.3" y="1211.8" font-size="18.3" font-weight="bold" fill="#9A3C05" text-anchor="middle" textLength="35.7" lengthAdjust="spacingAndGlyphs">LUG</text>
<text x="646.1" y="1271.0" font-size="29" font-weight="bold" fill="#9A3C05" text-anchor="middle" textLength="43.5" lengthAdjust="spacingAndGlyphs">28°</text>
<text x="738.6" y="1211.8" font-size="18.3" font-weight="bold" fill="#9A3C05" text-anchor="middle" textLength="38.4" lengthAdjust="spacingAndGlyphs">AGO</text>
<text x="739.4" y="1271.0" font-size="29" font-weight="bold" fill="#9A3C05" text-anchor="middle" textLength="43.5" lengthAdjust="spacingAndGlyphs">28°</text>
<text x="831.8" y="1211.8" font-size="18.3" font-weight="bold" fill="#9A3C05" text-anchor="middle" textLength="29.4" lengthAdjust="spacingAndGlyphs">SET</text>
<text x="832.6" y="1271.0" font-size="29" font-weight="bold" fill="#9A3C05" text-anchor="middle" textLength="43.5" lengthAdjust="spacingAndGlyphs">29°</text>
<text x="925.1" y="1211.8" font-size="18.3" font-weight="bold" fill="#9A3C05" text-anchor="middle" textLength="34.0" lengthAdjust="spacingAndGlyphs">OTT</text>
<text x="925.9" y="1271.0" font-size="29" font-weight="bold" fill="#9A3C05" text-anchor="middle" textLength="43.5" lengthAdjust="spacingAndGlyphs">29°</text>
<text x="1018.3" y="1211.8" font-size="18.3" font-weight="bold" fill="#9A3C05" text-anchor="middle" textLength="39.3" lengthAdjust="spacingAndGlyphs">NOV</text>
<text x="1019.1" y="1271.0" font-size="29" font-weight="bold" fill="#9A3C05" text-anchor="middle" textLength="43.5" lengthAdjust="spacingAndGlyphs">28°</text>
<text x="1111.6" y="1211.8" font-size="18.3" font-weight="bold" fill="#9A3C05" text-anchor="middle" textLength="29.7" lengthAdjust="spacingAndGlyphs">DIC</text>
<text x="1112.4" y="1271.0" font-size="29" font-weight="bold" fill="#9A3C05" text-anchor="middle" textLength="43.5" lengthAdjust="spacingAndGlyphs">28°</text>
<g stroke="#B3CFE5" stroke-width="1" fill="none"><path d="M115.5,1509.5 L731,1509.5"/><path d="M115.5,1548.5 L731,1548.5"/><path d="M115.5,1588.5 L731,1588.5"/><path d="M115.5,1627.5 L731,1627.5"/><path d="M115.5,1666.5 L731,1666.5"/><path d="M115.5,1705.5 L731,1705.5"/><path d="M115.5,1745.5 L731,1745.5"/><path d="M166.5,1509.5 L166.5,1784.5"/><path d="M218.5,1509.5 L218.5,1784.5"/><path d="M269.5,1509.5 L269.5,1784.5"/><path d="M320.5,1509.5 L320.5,1784.5"/><path d="M371.5,1509.5 L371.5,1784.5"/><path d="M423.5,1509.5 L423.5,1784.5"/><path d="M474.5,1509.5 L474.5,1784.5"/><path d="M525.5,1509.5 L525.5,1784.5"/><path d="M577.5,1509.5 L577.5,1784.5"/><path d="M628.5,1509.5 L628.5,1784.5"/><path d="M679.5,1509.5 L679.5,1784.5"/></g><g fill="#035E9F"><rect x="131.1" y="1707.1" width="21.8" height="77.4"/><rect x="182.4" y="1730.5" width="21.8" height="54.0"/><rect x="233.7" y="1725.2" width="21.8" height="59.3"/><rect x="285.0" y="1703.4" width="21.8" height="81.1"/><rect x="336.3" y="1654.3" width="21.8" height="130.2"/><rect x="387.6" y="1601.4" width="21.8" height="183.1"/><rect x="438.9" y="1561.4" width="21.8" height="223.1"/><rect x="490.2" y="1543.5" width="21.8" height="241.0"/><rect x="541.5" y="1553.3" width="21.8" height="231.2"/><rect x="592.8" y="1529.1" width="21.8" height="255.4"/><rect x="644.1" y="1545.2" width="21.8" height="239.2"/><rect x="695.4" y="1663.3" width="21.8" height="121.2"/></g><g stroke="#035E9F" stroke-width="1.2" fill="none"><path d="M115.5,1509.5 L115.5,1784.5"/><path d="M115.5,1784.5 L731,1784.5"/><path d="M110.0,1509.5 L115.5,1509.5"/><path d="M110.0,1548.5 L115.5,1548.5"/><path d="M110.0,1588.5 L115.5,1588.5"/><path d="M110.0,1627.5 L115.5,1627.5"/><path d="M110.0,1666.5 L115.5,1666.5"/><path d="M110.0,1705.5 L115.5,1705.5"/><path d="M110.0,1745.5 L115.5,1745.5"/><path d="M110.0,1784.5 L115.5,1784.5"/></g>
<text x="104.4" y="1513.2" font-size="11.4" font-weight="normal" fill="#035E9F" text-anchor="end" textLength="42.2" lengthAdjust="spacingAndGlyphs">140 mm</text>
<text x="104.4" y="1552.5" font-size="11.4" font-weight="normal" fill="#035E9F" text-anchor="end" textLength="42.2" lengthAdjust="spacingAndGlyphs">120 mm</text>
<text x="104.4" y="1591.8" font-size="11.4" font-weight="normal" fill="#035E9F" text-anchor="end" textLength="42.2" lengthAdjust="spacingAndGlyphs">100 mm</text>
<text x="104.4" y="1631.1" font-size="11.4" font-weight="normal" fill="#035E9F" text-anchor="end" textLength="35.9" lengthAdjust="spacingAndGlyphs">80 mm</text>
<text x="104.4" y="1670.3" font-size="11.4" font-weight="normal" fill="#035E9F" text-anchor="end" textLength="35.9" lengthAdjust="spacingAndGlyphs">60 mm</text>
<text x="104.4" y="1709.6" font-size="11.4" font-weight="normal" fill="#035E9F" text-anchor="end" textLength="35.9" lengthAdjust="spacingAndGlyphs">40 mm</text>
<text x="104.4" y="1748.9" font-size="11.4" font-weight="normal" fill="#035E9F" text-anchor="end" textLength="35.9" lengthAdjust="spacingAndGlyphs">20 mm</text>
<text x="104.4" y="1788.2" font-size="11.4" font-weight="normal" fill="#035E9F" text-anchor="end" textLength="29.2" lengthAdjust="spacingAndGlyphs">0 mm</text>
<text x="127.2" y="1805.5" font-size="13.5" font-weight="normal" fill="#035E9F" text-anchor="start" textLength="23.8" lengthAdjust="spacingAndGlyphs">Gen</text>
<text x="180.0" y="1805.5" font-size="13.5" font-weight="normal" fill="#035E9F" text-anchor="start" textLength="20.8" lengthAdjust="spacingAndGlyphs">Feb</text>
<text x="230.3" y="1805.5" font-size="13.5" font-weight="normal" fill="#035E9F" text-anchor="start" textLength="22.8" lengthAdjust="spacingAndGlyphs">Mar</text>
<text x="282.5" y="1805.5" font-size="13.5" font-weight="normal" fill="#035E9F" text-anchor="start" textLength="20.8" lengthAdjust="spacingAndGlyphs">Apr</text>
<text x="331.3" y="1805.5" font-size="13.5" font-weight="normal" fill="#035E9F" text-anchor="start" textLength="25.8" lengthAdjust="spacingAndGlyphs">Mag</text>
<text x="386.0" y="1805.5" font-size="13.5" font-weight="normal" fill="#035E9F" text-anchor="start" textLength="19.0" lengthAdjust="spacingAndGlyphs">Giu</text>
<text x="436.5" y="1805.5" font-size="13.5" font-weight="normal" fill="#035E9F" text-anchor="start" textLength="20.5" lengthAdjust="spacingAndGlyphs">Lug</text>
<text x="486.3" y="1805.5" font-size="13.5" font-weight="normal" fill="#035E9F" text-anchor="start" textLength="23.5" lengthAdjust="spacingAndGlyphs">Ago</text>
<text x="539.6" y="1805.5" font-size="13.5" font-weight="normal" fill="#035E9F" text-anchor="start" textLength="19.5" lengthAdjust="spacingAndGlyphs">Set</text>
<text x="591.2" y="1805.5" font-size="13.5" font-weight="normal" fill="#035E9F" text-anchor="start" textLength="19.0" lengthAdjust="spacingAndGlyphs">Ott</text>
<text x="640.0" y="1805.5" font-size="13.5" font-weight="normal" fill="#035E9F" text-anchor="start" textLength="24.0" lengthAdjust="spacingAndGlyphs">Nov</text>
<text x="694.3" y="1805.5" font-size="13.5" font-weight="normal" fill="#035E9F" text-anchor="start" textLength="18.0" lengthAdjust="spacingAndGlyphs">Dic</text>
<g transform="translate(50,1648) rotate(-90)">
<text x="-42.4" y="0.0" font-size="13" font-weight="normal" fill="#035E9F" text-anchor="start" textLength="84.8" lengthAdjust="spacingAndGlyphs">Precipitazioni</text>
</g>
<rect x="316.2" y="1835" width="8" height="8" fill="#035E9F"/>
<text x="332.3" y="1843.0" font-size="13.5" font-weight="normal" fill="#035E9F" text-anchor="start" textLength="126.0" lengthAdjust="spacingAndGlyphs">Totale precipitazioni</text>
<text x="785.5" y="1522.8" font-size="19.5" font-weight="normal" fill="#035E9F" text-anchor="start" textLength="340.5" lengthAdjust="spacingAndGlyphs">La media annuale delle precipitazioni a</text>
<text x="785.5" y="1546.4" font-size="19.5" font-weight="normal" fill="#035E9F" text-anchor="start" textLength="339.4" lengthAdjust="spacingAndGlyphs">Lance aux Épines è di circa 964 mm. La</text>
<text x="785.5" y="1570.0" font-size="19.5" font-weight="normal" fill="#035E9F" text-anchor="start" textLength="324.7" lengthAdjust="spacingAndGlyphs">differenza tra il mese con la massima</text>
<text x="785.5" y="1593.6" font-size="19.5" font-weight="normal" fill="#035E9F" text-anchor="start" textLength="336.5" lengthAdjust="spacingAndGlyphs">precipitazione (ottobre) e quello con la</text>
<text x="785.5" y="1617.2" font-size="19.5" font-weight="normal" fill="#035E9F" text-anchor="start" textLength="275.2" lengthAdjust="spacingAndGlyphs">minima (febbraio) è di 103 mm.</text>
<text x="785.5" y="1664.4" font-size="19.5" font-weight="normal" fill="#035E9F" text-anchor="start" textLength="354.0" lengthAdjust="spacingAndGlyphs">Le precipitazioni più intense si verificano</text>
<text x="785.5" y="1688.0" font-size="19.5" font-weight="normal" fill="#035E9F" text-anchor="start" textLength="344.9" lengthAdjust="spacingAndGlyphs">ad ottobre, con una quantità mensile di</text>
<text x="785.5" y="1711.6" font-size="19.5" font-weight="normal" fill="#035E9F" text-anchor="start" textLength="246.5" lengthAdjust="spacingAndGlyphs">130 mm e una probabilità di</text>
<text x="785.5" y="1735.2" font-size="19.5" font-weight="normal" fill="#035E9F" text-anchor="start" textLength="267.9" lengthAdjust="spacingAndGlyphs">precipitazioni di circa il 45%. Al</text>
<text x="785.5" y="1758.8" font-size="19.5" font-weight="normal" fill="#035E9F" text-anchor="start" textLength="334.5" lengthAdjust="spacingAndGlyphs">contrario, le precipitazioni più basse si</text>
<text x="785.5" y="1782.4" font-size="19.5" font-weight="normal" fill="#035E9F" text-anchor="start" textLength="344.9" lengthAdjust="spacingAndGlyphs">registrano a febbraio, con una media di</text>
<text x="785.5" y="1806.0" font-size="19.5" font-weight="normal" fill="#035E9F" text-anchor="start" textLength="286.9" lengthAdjust="spacingAndGlyphs">27 mm e una probabilità dell'5%.</text>
<path d="M37,1900.7 L37,1875.2 A5,5 0 0 1 42,1870.2 L735,1870.2 A5,5 0 0 1 740,1875.2 L740,1900.7 Z" fill="#2E9BDE"/>
<path d="M37,1900.7 L740,1900.7 L740,2015.3 A5,5 0 0 1 735,2020.3 L42,2020.3 A5,5 0 0 1 37,2015.3 Z" fill="#B0DCFF"/>
<text x="388.5" y="1892.8" font-size="17.3" font-weight="bold" fill="#fff" text-anchor="middle" textLength="258.0" lengthAdjust="spacingAndGlyphs">PROBABILITÀ DI PRECIPITAZIONI</text>
<path d="M66.8,1915.5 C71.8,1928.5 91.8,1947 91.8,1966 A25,25 0 0 1 41.8,1966 C41.8,1947 61.8,1928.5 66.8,1915.5 Z" fill="#2E9BDE"/>
<text x="66.4" y="1972.6" font-size="17" font-weight="bold" fill="#fff" text-anchor="middle" textLength="25.5" lengthAdjust="spacingAndGlyphs">9%</text>
<text x="66.2" y="2008.7" font-size="12.6" font-weight="bold" fill="#035E9F" text-anchor="middle" textLength="24.0" lengthAdjust="spacingAndGlyphs">GEN</text>
<path d="M125.3,1915.5 C130.3,1928.5 150.3,1947 150.3,1966 A25,25 0 0 1 100.3,1966 C100.3,1947 120.3,1928.5 125.3,1915.5 Z" fill="#EEF7FF"/>
<text x="124.9" y="1972.6" font-size="17" font-weight="bold" fill="#035E9F" text-anchor="middle" textLength="25.5" lengthAdjust="spacingAndGlyphs">5%</text>
<text x="124.7" y="2008.7" font-size="12.6" font-weight="bold" fill="#035E9F" text-anchor="middle" textLength="20.4" lengthAdjust="spacingAndGlyphs">FEB</text>
<path d="M183.7,1915.5 C188.7,1928.5 208.7,1947 208.7,1966 A25,25 0 0 1 158.7,1966 C158.7,1947 178.7,1928.5 183.7,1915.5 Z" fill="#2E9BDE"/>
<text x="183.3" y="1972.6" font-size="17" font-weight="bold" fill="#fff" text-anchor="middle" textLength="25.5" lengthAdjust="spacingAndGlyphs">5%</text>
<text x="183.1" y="2008.7" font-size="12.6" font-weight="bold" fill="#035E9F" text-anchor="middle" textLength="26.2" lengthAdjust="spacingAndGlyphs">MAR</text>
<path d="M242.2,1915.5 C247.2,1928.5 267.2,1947 267.2,1966 A25,25 0 0 1 217.2,1966 C217.2,1947 237.2,1928.5 242.2,1915.5 Z" fill="#2E9BDE"/>
<text x="241.8" y="1972.6" font-size="17" font-weight="bold" fill="#fff" text-anchor="middle" textLength="25.5" lengthAdjust="spacingAndGlyphs">7%</text>
<text x="241.6" y="2008.7" font-size="12.6" font-weight="bold" fill="#035E9F" text-anchor="middle" textLength="22.6" lengthAdjust="spacingAndGlyphs">APR</text>
<path d="M300.6,1915.5 C305.6,1928.5 325.6,1947 325.6,1966 A25,25 0 0 1 275.6,1966 C275.6,1947 295.6,1928.5 300.6,1915.5 Z" fill="#2E9BDE"/>
<text x="300.2" y="1972.6" font-size="17" font-weight="bold" fill="#fff" text-anchor="middle" textLength="35.5" lengthAdjust="spacingAndGlyphs">20%</text>
<text x="300.0" y="2008.7" font-size="12.6" font-weight="bold" fill="#035E9F" text-anchor="middle" textLength="27.0" lengthAdjust="spacingAndGlyphs">MAG</text>
<path d="M359.1,1915.5 C364.1,1928.5 384.1,1947 384.1,1966 A25,25 0 0 1 334.1,1966 C334.1,1947 354.1,1928.5 359.1,1915.5 Z" fill="#035E9F"/>
<text x="358.7" y="1972.6" font-size="17" font-weight="bold" fill="#fff" text-anchor="middle" textLength="35.5" lengthAdjust="spacingAndGlyphs">36%</text>
<text x="358.5" y="2008.7" font-size="12.6" font-weight="bold" fill="#035E9F" text-anchor="middle" textLength="20.8" lengthAdjust="spacingAndGlyphs">GIU</text>
<path d="M417.6,1915.5 C422.6,1928.5 442.6,1947 442.6,1966 A25,25 0 0 1 392.6,1966 C392.6,1947 412.6,1928.5 417.6,1915.5 Z" fill="#035E9F"/>
<text x="417.2" y="1972.6" font-size="17" font-weight="bold" fill="#fff" text-anchor="middle" textLength="35.5" lengthAdjust="spacingAndGlyphs">46%</text>
<text x="417.0" y="2008.7" font-size="12.6" font-weight="bold" fill="#035E9F" text-anchor="middle" textLength="23.5" lengthAdjust="spacingAndGlyphs">LUG</text>
<path d="M476.0,1915.5 C481.0,1928.5 501.0,1947 501.0,1966 A25,25 0 0 1 451.0,1966 C451.0,1947 471.0,1928.5 476.0,1915.5 Z" fill="#035E9F"/>
<text x="475.6" y="1972.6" font-size="17" font-weight="bold" fill="#fff" text-anchor="middle" textLength="35.5" lengthAdjust="spacingAndGlyphs">47%</text>
<text x="475.4" y="2008.7" font-size="12.6" font-weight="bold" fill="#035E9F" text-anchor="middle" textLength="25.3" lengthAdjust="spacingAndGlyphs">AGO</text>
<path d="M534.5,1915.5 C539.5,1928.5 559.5,1947 559.5,1966 A25,25 0 0 1 509.5,1966 C509.5,1947 529.5,1928.5 534.5,1915.5 Z" fill="#035E9F"/>
<text x="534.1" y="1972.6" font-size="17" font-weight="bold" fill="#fff" text-anchor="middle" textLength="35.5" lengthAdjust="spacingAndGlyphs">38%</text>
<text x="533.9" y="2008.7" font-size="12.6" font-weight="bold" fill="#035E9F" text-anchor="middle" textLength="19.4" lengthAdjust="spacingAndGlyphs">SET</text>
<path d="M592.9,1915.5 C597.9,1928.5 617.9,1947 617.9,1966 A25,25 0 0 1 567.9,1966 C567.9,1947 587.9,1928.5 592.9,1915.5 Z" fill="#035E9F"/>
<text x="592.5" y="1972.6" font-size="17" font-weight="bold" fill="#fff" text-anchor="middle" textLength="35.5" lengthAdjust="spacingAndGlyphs">45%</text>
<text x="592.3" y="2008.7" font-size="12.6" font-weight="bold" fill="#035E9F" text-anchor="middle" textLength="22.4" lengthAdjust="spacingAndGlyphs">OTT</text>
<path d="M651.4,1915.5 C656.4,1928.5 676.4,1947 676.4,1966 A25,25 0 0 1 626.4,1966 C626.4,1947 646.4,1928.5 651.4,1915.5 Z" fill="#035E9F"/>
<text x="651.0" y="1972.6" font-size="17" font-weight="bold" fill="#fff" text-anchor="middle" textLength="35.5" lengthAdjust="spacingAndGlyphs">43%</text>
<text x="650.8" y="2008.7" font-size="12.6" font-weight="bold" fill="#035E9F" text-anchor="middle" textLength="25.8" lengthAdjust="spacingAndGlyphs">NOV</text>
<path d="M709.9,1915.5 C714.9,1928.5 734.9,1947 734.9,1966 A25,25 0 0 1 684.9,1966 C684.9,1947 704.9,1928.5 709.9,1915.5 Z" fill="#2E9BDE"/>
<text x="709.5" y="1972.6" font-size="17" font-weight="bold" fill="#fff" text-anchor="middle" textLength="35.5" lengthAdjust="spacingAndGlyphs">17%</text>
<text x="709.3" y="2008.7" font-size="12.6" font-weight="bold" fill="#035E9F" text-anchor="middle" textLength="19.6" lengthAdjust="spacingAndGlyphs">DIC</text>
<text x="785.6" y="1953.5" font-size="20.6" font-weight="bold" fill="#035E9F" text-anchor="start" textLength="236.5" lengthAdjust="spacingAndGlyphs">PRECIPITAZIONI PER TIPO</text>
<circle cx="788.5" cy="1980.2" r="2.1" fill="#035E9F"/>
<text x="797.2" y="1986.7" font-size="19.5" font-weight="normal" fill="#035E9F" text-anchor="start" textLength="120.8" lengthAdjust="spacingAndGlyphs">Pioggia: 100%</text>
<circle cx="788.5" cy="2008.9" r="2.1" fill="#035E9F"/>
<text x="797.2" y="2015.4" font-size="19.5" font-weight="normal" fill="#035E9F" text-anchor="start" textLength="80.0" lengthAdjust="spacingAndGlyphs">Neve: 0%</text>
<g fill="none" stroke="#B0DCFF" stroke-width="2.9"><circle cx="58" cy="2111.7" r="17"/><circle cx="106.3" cy="2111.7" r="17"/><circle cx="154.7" cy="2111.7" r="17"/></g>
<text x="58.0" y="2117.5" font-size="16.5" font-weight="bold" fill="#B0DCFF" text-anchor="middle" textLength="21.5" lengthAdjust="spacingAndGlyphs">CC</text>
<g fill="#B0DCFF"><circle cx="106.3" cy="2101.5" r="3"/><path d="M101.3,2106 h10 v9 h-2.3 v9.5 h-5.4 v-9.5 h-2.3 z"/><rect x="147.4" y="2106.4" width="14.7" height="3.5"/><rect x="147.4" y="2113.4" width="14.7" height="3.5"/></g>
<text x="185.7" y="2117.7" font-size="17.3" font-weight="bold" fill="#B0DCFF" text-anchor="start" textLength="113.3" lengthAdjust="spacingAndGlyphs">CC BY-ND 4.0</text>
<text x="989.0" y="2120.0" font-size="24" font-weight="bold" fill="#fff" text-anchor="start" textLength="169.6" lengthAdjust="spacingAndGlyphs">METEOATLAS.IT</text>
</svg></body></html>
